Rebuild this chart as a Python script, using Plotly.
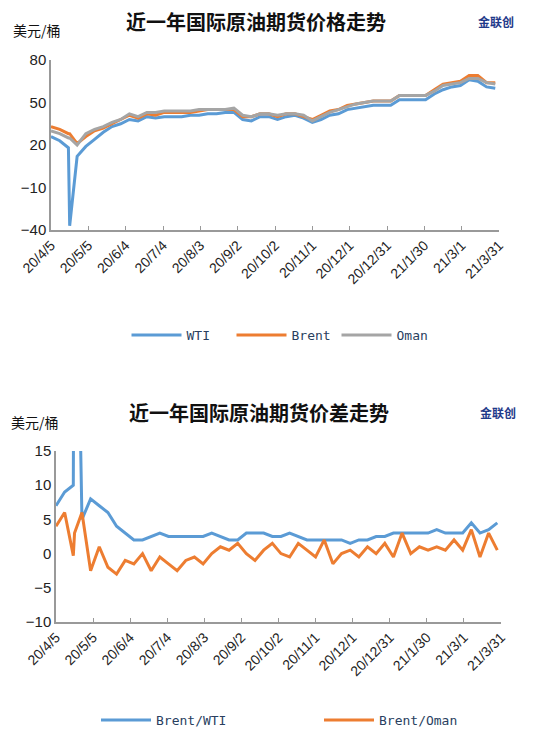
import plotly.graph_objects as go
import pandas as pd

dates = list(pd.date_range("2020-04-05", "2021-03-28", freq="7D").strftime("%Y-%m-%d"))
dates.insert(3, "2020-04-20")

wti = [26,23,18,-37,12,19,24,29,33,35,38,37,40,39,40,40,40,41,41,42,42,43,43,38,37,40,40,38,40,41,39,36,38,41,42,45,46,47,48,48,48,52,52,52,52,56,59,61,62,66,65,61,60]
brent = [33,31,28,28,21,26,30,32,35,38,41,39,42,41,43,43,43,43,44,45,45,45,45,40,40,42,42,40,42,42,40,38,41,44,45,48,49,50,51,51,51,55,55,55,55,59,63,64,65,69,69,64,64]
oman = [30,28,25,25,20,28,31,33,36,38,42,40,43,43,44,44,44,44,45,45,45,45,46,41,40,42,42,41,42,42,41,37,40,43,45,47,49,50,51,51,51,55,55,55,55,58,62,63,64,67,67,64,63]
brent_wti = [7,9,10,65,5,8,7,6,4,3,2,2,2.5,3,2.5,2.5,2.5,2.5,2.5,3,2.5,2,2,3,3,3,2.5,2.5,3,2.5,2,2,2,2,2,1.5,2,2,2.5,2.5,3,3,3,3,3,3.5,3,3,3,4.5,3,3.5,4.5]
brent_oman = [4,6,-0.3,3,6,-2.5,1,-2,-3,-1,-1.5,0,-2.5,-0.5,-1.5,-2.5,-1,-0.5,-1.5,0,1,0.5,1.5,0,-1,0.5,1.5,0,-0.5,1.5,0.5,-0.5,2,-1.5,0,0.5,-0.5,1,0,1.5,-0.5,3,0,1,0.5,1,0.5,2,0.5,3.5,-0.5,3,0.5]

tick_dates = list(pd.date_range("2020-04-05", periods=13, freq="30D").strftime("%Y-%m-%d"))
tick_labels = ["20/4/5","20/5/5","20/6/4","20/7/4","20/8/3","20/9/2","20/10/2","20/11/1","20/12/1","20/12/31","21/1/30","21/3/1","21/3/31"]

W, H, OX, OY = 550, 744, 7, 8
def px(x): return (x - OX) / W
def py(y): return 1 - (y - OY) / H

BLUE, ORANGE, GRAY = "#5B9BD5", "#ED7D31", "#A5A5A5"
fig = go.Figure()
fig.add_trace(go.Scatter(x=dates, y=wti, name="WTI", line=dict(color=BLUE, width=3), legend="legend"))
fig.add_trace(go.Scatter(x=dates, y=brent, name="Brent", line=dict(color=ORANGE, width=3), legend="legend"))
fig.add_trace(go.Scatter(x=dates, y=oman, name="Oman", line=dict(color=GRAY, width=3), legend="legend"))
fig.add_trace(go.Scatter(x=dates, y=brent_wti, name="Brent/WTI", line=dict(color=BLUE, width=3), xaxis="x2", yaxis="y2", legend="legend2"))
fig.add_trace(go.Scatter(x=dates, y=brent_oman, name="Brent/Oman", line=dict(color=ORANGE, width=3), xaxis="x2", yaxis="y2", legend="legend2"))

xcommon = dict(type="date", range=["2020-04-05", "2021-03-31"], tickvals=tick_dates, ticktext=tick_labels, automargin=False,
               tickangle=-45, showline=True, linecolor="#999", linewidth=1.5, showgrid=False,
               ticks="inside", tickcolor="#999", ticklen=4, tickfont=dict(size=14, color="#222", family="Liberation Sans"))
ycommon = dict(showline=True, linecolor="#999", linewidth=1.5, showgrid=False, zeroline=False, ticks="", automargin=False,
               tickfont=dict(size=15, color="#222", family="Liberation Sans"))
fig.update_layout(
    width=W, height=H, margin=dict(l=0, r=0, t=0, b=0, autoexpand=False),
    paper_bgcolor="white", plot_bgcolor="white", showlegend=True,
    xaxis=dict(domain=[px(50), px(498)], anchor="y", **xcommon),
    yaxis=dict(domain=[py(230), py(60)], range=[-40, 80], tickvals=[-40,-10,20,50,80], anchor="x", **ycommon),
    xaxis2=dict(domain=[px(55), px(500)], anchor="y2", **xcommon),
    yaxis2=dict(domain=[py(622), py(451)], range=[-10, 15], tickvals=[-10,-5,0,5,10,15], anchor="x2", **ycommon),
    legend=dict(orientation="h", x=px(283), xanchor="center", y=py(335), yanchor="middle", font=dict(size=13, family="DejaVu Sans Mono"), itemwidth=50, entrywidth=40),
    legend2=dict(orientation="h", x=px(318), xanchor="center", y=py(720), yanchor="middle", font=dict(size=13, family="DejaVu Sans Mono"), itemwidth=50, entrywidth=158),
)
def ann(text, x, y, size, color="#111", xanchor="center"):
    fig.add_annotation(text=text, x=px(x), y=py(y), xref="paper", yref="paper", showarrow=False,
                       xanchor=xanchor, yanchor="middle", font=dict(size=size, family="Noto Sans CJK SC", color=color))
ann("<b>近一年国际原油期货价格走势</b>", 255, 22, 20)
ann("美元/桶", 10, 30, 14, xanchor="left")
ann("<b>近一年国际原油期货价差走势</b>", 258, 413, 20)
ann("美元/桶", 8, 422, 14, xanchor="left")
ann("<b>金联创</b>", 495, 22, 12, color="#1f3a8a")
ann("<b>金联创</b>", 497, 413, 12, color="#1f3a8a")
fig.write_html("out.html")
